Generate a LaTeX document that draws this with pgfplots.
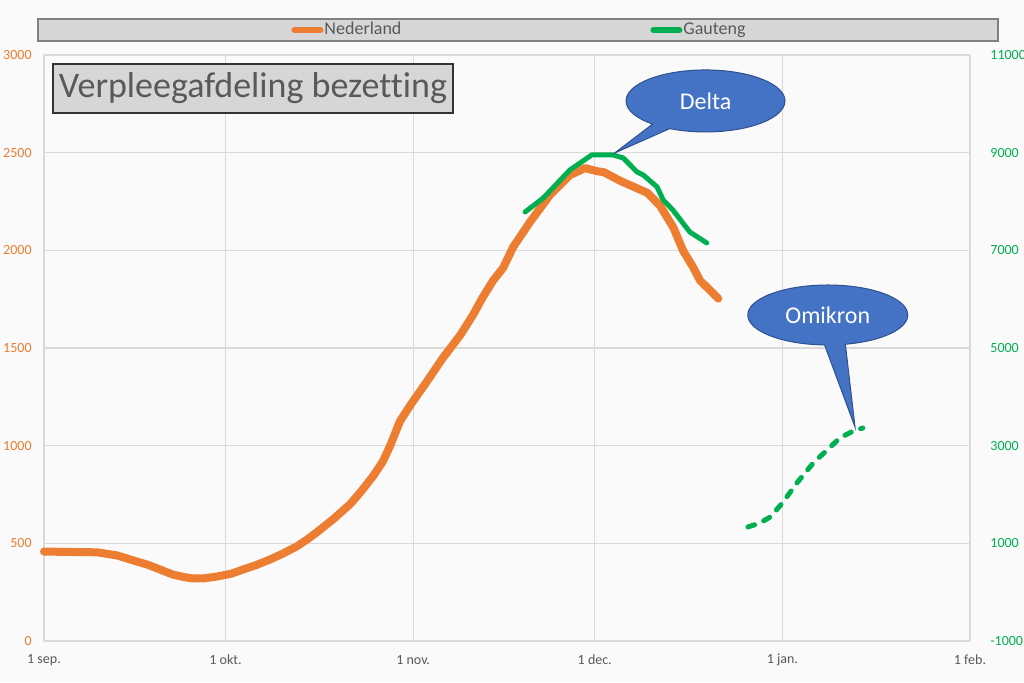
\documentclass[border=0pt]{standalone}
\usepackage{fontspec}
\setmainfont{Carlito}[Ligatures=NoCommon]
\usepackage{pgfplots}
\pgfplotsset{compat=1.18}
\usetikzlibrary{shapes.callouts}

\definecolor{nlorange}{HTML}{ED7D31}
\definecolor{gtgreen}{HTML}{00B050}
\definecolor{calloutblue}{HTML}{4472C4}
\definecolor{calloutedge}{HTML}{2F528F}
\definecolor{gridgray}{HTML}{D9D9D9}
\definecolor{boxgray}{HTML}{D6D6D6}
\definecolor{textgray}{HTML}{595959}
\definecolor{bg}{HTML}{FAFAFA}

% 1 px of the reference = 0.5pt
\pgfplotsset{
  base/.style={
    at={(22pt,20.5pt)}, anchor=south west,
    scale only axis, width=463pt, height=293pt,
    xmin=0, xmax=153,
    axis line style={draw=none},
    major tick length=0pt,
    scaled y ticks=false,
    /pgf/number format/assume math mode=true,
    /pgf/number format/1000 sep={},
    clip=false,
  }
}

\begin{document}
\begin{tikzpicture}
\fill[bg] (0,0) rectangle (512pt,341pt);
\useasboundingbox (0,0) rectangle (512pt,341pt);

% legend frame
\draw[draw=gray, line width=0.8pt, fill=boxgray] (19pt,320.5pt) rectangle (499pt,331.5pt);

% left axis: Nederland
\begin{axis}[base,
  ymin=0, ymax=3000, ytick={0,500,...,3000},
  xtick={0,30,61,91,122,153},
  xticklabels={1 sep., 1 okt., 1 nov., 1 dec., 1 jan., 1 feb.},
  xmajorgrids, ymajorgrids,
  grid style={gridgray, line width=0.6pt},
  xticklabel style={text=textgray, font=\fontsize{7}{8}\selectfont, anchor=center, yshift=-9.5pt},
  yticklabel style={text=nlorange, font=\fontsize{7}{8}\selectfont, anchor=east, inner sep=0pt, xshift=-6pt},
]
\addplot[nlorange, line width=4pt, line join=round, line cap=round] coordinates {
(0,458) (4,456) (8.8,454) (12.1,438) (15,410) (17,392) (19,368) (21.3,340)
(23,328) (24.6,320) (26.5,321) (28.6,330) (31,345) (32.9,366) (35,388)
(37.4,418) (39.5,448) (41.8,485) (43.5,520) (45.1,557) (47.8,624) (50.6,701)
(52.5,770) (54.4,845) (56,920) (57.2,1000) (58.8,1124) (60.5,1206) (63.3,1330)
(65.9,1449) (68.8,1567) (70.9,1670) (72.5,1760) (74.2,1845) (75.9,1912)
(77.5,2016) (80.3,2145) (83.6,2283) (86.9,2385) (89.4,2421) (91.4,2405)
(92.5,2400) (95.2,2356) (99.7,2294) (101.8,2228) (104,2116) (105.6,1998)
(107.3,1911) (108.4,1845) (110.1,1794) (111.4,1753)
};
\end{axis}

% right axis: Gauteng
\begin{axis}[base,
  ymin=-1000, ymax=11000, ytick={-1000,1000,...,11000},
  axis y line*=right, axis x line=none,
  xtick=\empty,
  yticklabel style={text=gtgreen, font=\fontsize{7}{8}\selectfont, anchor=west, inner sep=0pt, xshift=10pt},
  legend columns=2,
  legend style={at={(0.513,1.0427)}, anchor=center, draw=none, fill=none,
    font=\fontsize{9}{10}\selectfont, text=textgray,
    nodes={inner sep=0.5pt},
    /tikz/every even column/.append style={column sep=124pt}},
  legend image code/.code={\draw[#1, line width=3pt, line cap=round] (0pt,0pt) -- (13pt,0pt);},
]
\addlegendimage{nlorange}
\addlegendentry{Nederland}
\addplot[gtgreen, line width=2.5pt, line join=round, line cap=round] coordinates {
(79.5,7786) (82.5,8073) (86.9,8646) (90.5,8953) (91.9,8953) (94.0,8953)
(95.7,8892) (98.0,8605) (99.0,8544) (101.3,8298) (102.3,8032) (103.9,7827)
(106.7,7376) (109.5,7151)
};
\addlegendentry{Gauteng}
\addplot[gtgreen, line width=2.5pt, line join=round, line cap=round, dash pattern=on 3.5pt off 5pt, forget plot] coordinates {
(116.3,1335) (118.3,1417) (120.0,1540) (122.0,1826) (124.4,2236) (127.1,2646)
(129.4,2912) (131.5,3158) (133.7,3300) (135.3,3362)
};
\node[ellipse callout, fill=calloutblue, draw=calloutedge, line width=0.5pt,
  minimum width=79.5pt, minimum height=31pt, inner sep=0pt, text=white,
  font=\fontsize{12}{14}\selectfont,
  callout absolute pointer={(axis cs:94.3,8994)}] at (axis cs:109.3,10059) {Delta};
\node[ellipse callout, fill=calloutblue, draw=calloutedge, line width=0.5pt,
  minimum width=80pt, minimum height=30pt, inner sep=0pt, text=white,
  font=\fontsize{12}{14}\selectfont,
  callout absolute pointer={(axis cs:134,3383)}] at (axis cs:129.5,5676) {Omikron};
\end{axis}

% title box
\node[draw=black!80, line width=0.6pt, fill=boxgray, text=textgray,
  minimum width=200pt, minimum height=24.5pt, inner sep=0pt,
  font=\fontsize{18}{20}\selectfont] at (126.5pt,296.75pt) {Verpleegafdeling bezetting};
\end{tikzpicture}
\end{document}
